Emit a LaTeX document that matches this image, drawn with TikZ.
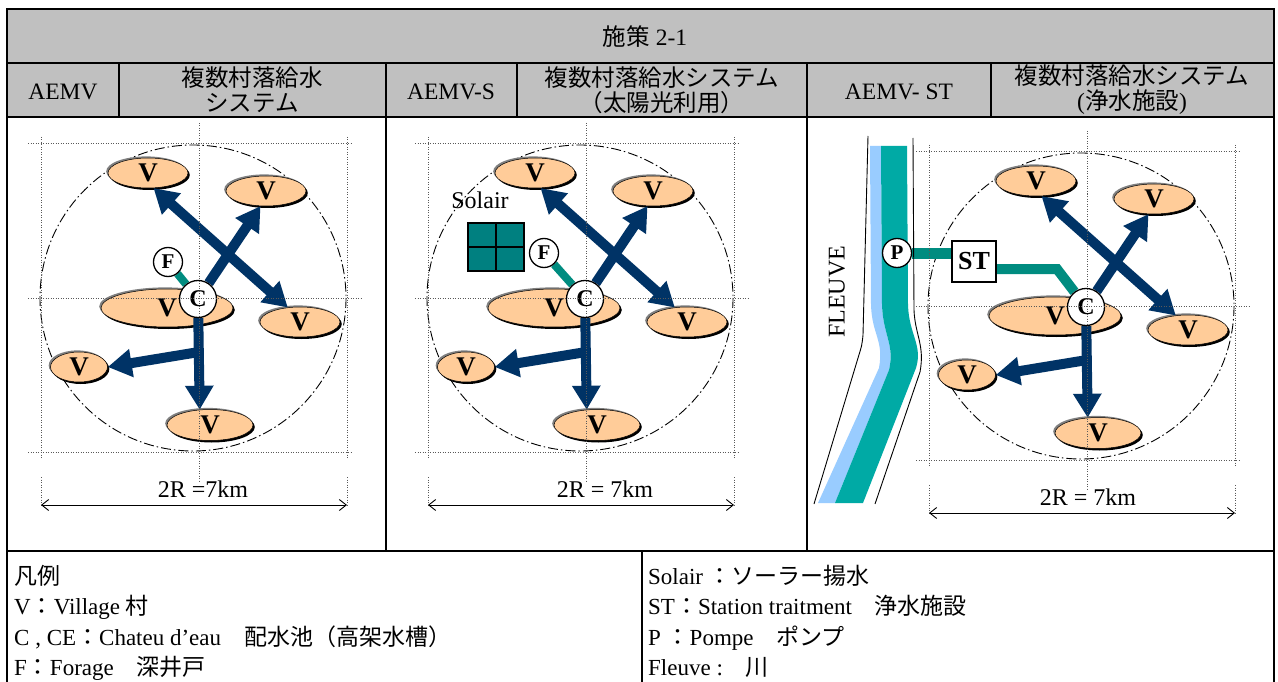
\documentclass[tikz,border=0pt]{standalone}
\usepackage{fontspec}
\setmainfont{Liberation Serif}
\newfontfamily\cjk{Noto Sans CJK JP}
\usetikzlibrary{arrows.meta,shapes.geometric,shadows,calc}
\newcommand\J[1]{{\cjk #1}}
\newcommand\fsz[1]{\fontsize{#1}{#1}\selectfont}
\pgfdeclarelayer{base}\pgfdeclarelayer{bg}\pgfdeclarelayer{mid}
\pgfsetlayers{base,bg,mid,main}
\definecolor{navy}{RGB}{0,51,102}
\definecolor{peach}{RGB}{255,204,153}
\definecolor{tealF}{RGB}{0,140,128}
\definecolor{riverT}{RGB}{0,170,165}
\definecolor{riverB}{RGB}{153,204,255}
\definecolor{solar}{RGB}{0,128,128}
\definecolor{hdr}{RGB}{192,192,192}
\tikzset{
 gridl/.style={draw=black!65, line width=1pt, dash pattern=on 1pt off 1.5pt},
 rim/.style={draw=black, line width=0.9pt, dash pattern=on 10pt off 3pt on 1.5pt off 3pt},
 vil/.style={ellipse, fill=peach, draw=black, line width=0.5pt, inner sep=0pt, font=\fsz{27}\bfseries,
   general shadow={shadow xshift=-1.8pt, shadow yshift=1.6pt, fill=gray},
   general shadow={shadow xshift=1.8pt, shadow yshift=-2pt, fill=black}},
 hub/.style={circle, draw=black, line width=1.3pt, fill=white, inner sep=0pt, minimum size=37pt, font=\fsz{24}\bfseries},
 src/.style={circle, draw=black, line width=1.3pt, fill=white, inner sep=0pt, minimum size=29pt, font=\fsz{21}\bfseries},
 pipe/.style={draw=navy, line width=10pt, -{Triangle[width=27pt,length=24pt]}},
 pipetwo/.style={draw=navy, line width=10pt, {Triangle[width=27pt,length=24pt]}-{Triangle[width=27pt,length=24pt]}},
 feed/.style={draw=tealF, line width=8pt},
 dimline/.style={draw=black, line width=0.9pt, {Straight Barb[length=7pt,width=11pt]}-{Straight Barb[length=7pt,width=11pt]}},
 lbl/.style={inner sep=0pt, font=\fsz{24}},
 hd/.style={inner sep=0pt, font=\fontsize{23.5}{25}\selectfont, align=center},
 leg/.style={inner sep=0pt, anchor=base west, font=\fsz{23}},
 rule/.style={draw=black, line width=2pt},
}
% #1 suffix, #2 dimension text, #3 x of dimension text
\newcommand\vpanel[3]{%
  \begin{pgfonlayer}{bg}
  \draw[rim] (193,298) circle[radius=153];
  \node[vil, minimum width=80pt, minimum height=30pt] (v1#1) at (148,173) {V};
  \node[vil, minimum width=80pt, minimum height=30pt] (v2#1) at (266,191) {V};
  \node[vil, minimum width=132pt, minimum height=38pt] (v3#1) at (167,308) {V};
  \node[vil, minimum width=80pt, minimum height=30pt] (v4#1) at (300,322) {V};
  \node[vil, minimum width=57pt, minimum height=30pt] (v5#1) at (79,367) {V};
  \node[vil, minimum width=86pt, minimum height=31pt] (v6#1) at (210,425) {V};
  \end{pgfonlayer}
  \node[hub] (c#1) at (198,299) {C};
  \coordinate (j#1) at (199,352);
  \begin{pgfonlayer}{mid}
  \draw[pipe] (c#1) -- (v2#1.250);
  \draw[pipetwo] (v1#1.290) -- (v4#1.130);
  \draw[pipe] (c#1) -- (v6#1.124);
  \draw[pipe] (j#1) -- (v5#1.east);
  \end{pgfonlayer}
  \draw[gridl] (28,144) -- (352,144) (28,452) -- (352,452) (41,137) -- (41,458)
    (347,137) -- (347,458) (199,123) -- (199,482) (28,298) -- (362,298)
    (41,477) -- (41,505) (347,477) -- (347,505);
  \coordinate (dl#1) at (41,505);
  \coordinate (dr#1) at (347,505);
  \draw[dimline] (dl#1) -- (dr#1);
  \node[lbl] (dt#1) at (#3,489) {#2};
}
\begin{document}
\begin{tikzpicture}[x=1pt,y=-1pt]
\useasboundingbox (0,0) rectangle (1278,682);
\begin{pgfonlayer}{base}
\fill[white] (0,0) rectangle (1278,682);
\end{pgfonlayer}
% header
\fill[hdr] (7,9) rectangle (1274,117);
\node[hd] (title) at (645,37) {\J{施策} 2-1};
\node[hd] (h1) at (63,92) {AEMV};
\node[hd] (h2) at (252,90) {\J{複数村落給水}\\\J{システム}};
\node[hd] (h3) at (451,92) {AEMV-S};
\node[hd] (h4) at (662,90) {\J{複数村落給水システム}\\\J{（太陽光利用）}};
\node[hd] (h5) at (899,92) {AEMV- ST};
\node[hd] (h6) at (1132,90) {\J{複数村落給水システム}\\(\J{浄水施設})};
% panel 1
\begin{scope}
  \vpanel{a}{2R =7km}{203}
  \node[src] (fa) at (168,262) {F};
  \begin{pgfonlayer}{mid}\draw[feed] (fa) -- (ca);\end{pgfonlayer}
\end{scope}
% panel 2
\begin{scope}[shift={(387,0)}]
  \vpanel{b}{2R = 7km}{218}
  \node[src] (fb) at (157,253) {F};
  \begin{pgfonlayer}{mid}\draw[feed] (fb) -- (cb);\end{pgfonlayer}
  \node[lbl] (solt) at (93,200) {Solair};
  \node[draw=black, line width=1.2pt, fill=solar, minimum width=56pt, minimum height=48pt, inner sep=0pt] (sol) at (109,247) {};
  \draw[black, line width=1.2pt] (sol.north) -- (sol.south) (sol.west) -- (sol.east);
\end{scope}
% river
\fill[riverB] (870,146) -- (871,305) .. controls (872,335) and (884,340) .. (879,368) -- (818,503)
  -- (835,503) -- (889,370) .. controls (895,345) and (883,335) .. (882,305) -- (881,146) -- cycle;
\fill[riverT] (881,146) -- (882,305) .. controls (883,335) and (895,345) .. (889,370) -- (835,503)
  -- (863,503) -- (916,368) .. controls (923,345) and (909,335) .. (908,305) -- (907,146) -- cycle;
\draw[black, line width=0.9pt] (868,136) -- (863,335) .. controls (862,345) .. (858,358) -- (814,504);
\draw[black, line width=0.9pt] (913,138) -- (914,310) .. controls (915,335) and (925,345) .. (920,372) -- (875,504);
\node[lbl, rotate=90] (fl) at (837,292) {FLEUVE};
% panel 3
\begin{scope}[shift={(888,8)}]
  \vpanel{c}{2R = 7km}{200}
  \node[src] (pc) at (9,245) {P};
  \node[draw=black, line width=1.3pt, fill=white, minimum width=44pt, minimum height=41pt, inner sep=0pt, font=\fsz{26}\bfseries] (stc) at (86,253.5) {ST};
  \coordinate (kc) at (169,261);
  \begin{pgfonlayer}{mid}
  \draw[feed, line width=11pt] (pc) -- (pc -| stc.west);
  \draw[feed, line width=10pt] (stc.east |- kc) -- (kc) -- (cc);
  \end{pgfonlayer}
\end{scope}
% legend
\node[leg] (l1) at (14,584) {\J{凡例}};
\node[leg] (l2) at (14,614) {V\J{：}Village \J{村}};
\node[leg] (l3) at (14,645) {C , CE\J{：}Chateu d'eau\J{　配水池（高架水槽）}};
\node[leg] (l4) at (14,675) {F\J{：}Forage\J{　深井戸}};
\node[leg] (r1) at (648,584) {Solair \J{：ソーラー揚水}};
\node[leg] (r2) at (648,614) {ST\J{：}Station traitment\J{　浄水施設}};
\node[leg] (r3) at (648,645) {P \J{：}Pompe\J{　ポンプ}};
\node[leg] (r4) at (648,675) {Fleuve :\J{　川}};
% table rules
\draw[rule] (7,63) -- (1274,63) (7,117) -- (1274,117) (7,551) -- (1274,551)
  (119,63) -- (119,117) (517,63) -- (517,117) (991,63) -- (991,117)
  (386,63) -- (386,551) (807,63) -- (807,551) (642,551) -- (642,690);
\draw[draw=black, line width=2.4pt] (7,690) -- (7,9) -- (1274,9) -- (1274,690);
\end{tikzpicture}
\end{document}
